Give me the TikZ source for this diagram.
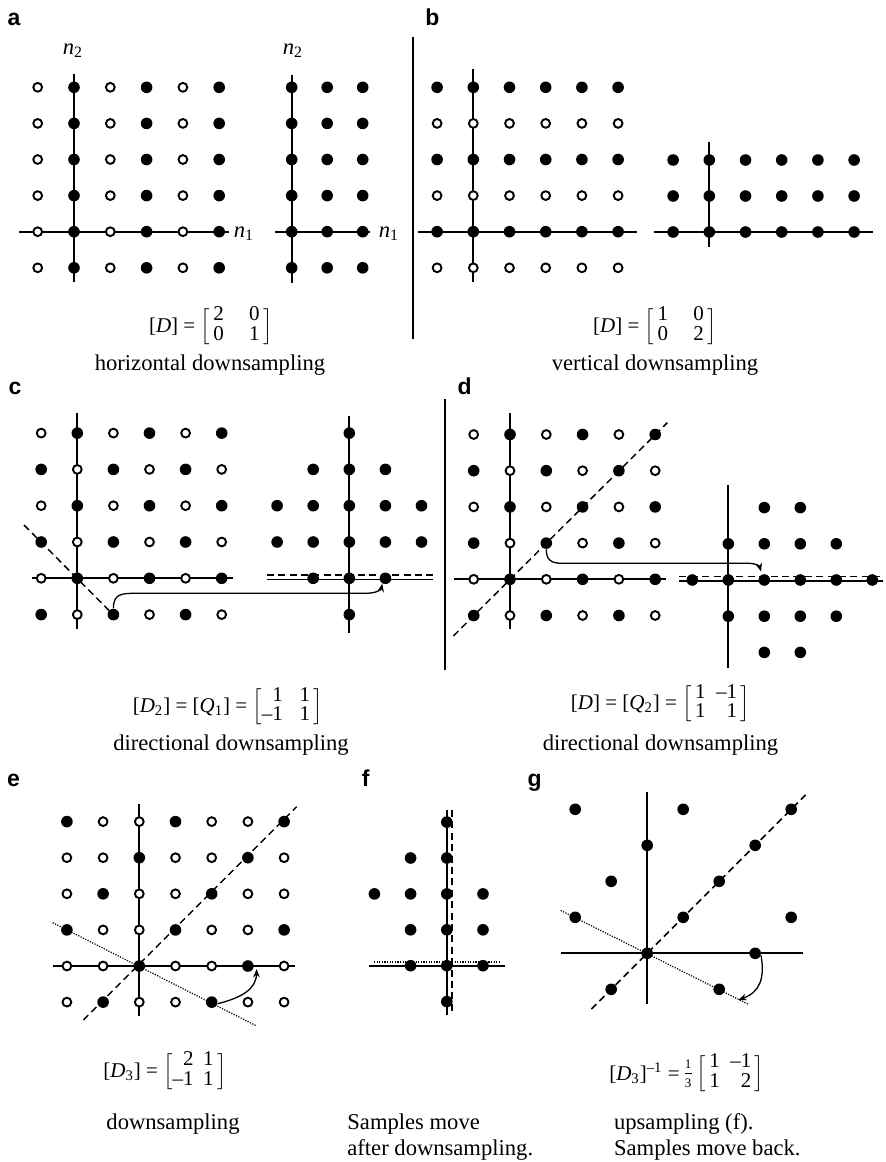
\documentclass[tikz,border=0pt]{standalone}
\usepackage{fontspec}
\setmainfont{Liberation Serif}
\newfontfamily\lblfont{Liberation Sans}
\usetikzlibrary{arrows.meta}
\newcommand{\mymat}[2]{$\left[\vcenter{\hbox{\def\arraystretch{0.78}\setlength{\tabcolsep}{0pt}\begin{tabular}{#1}#2\end{tabular}}}\right]$}
\newcommand{\mi}[1]{\textit{#1}}
\begin{document}
\begin{tikzpicture}[x=0.5pt,y=-0.5pt,
 fd/.style={circle,fill=black,inner sep=0pt,minimum size=5.8pt},
 od/.style={circle,draw=black,fill=white,line width=0.95pt,inner sep=0pt,minimum size=4.4pt},
 axln/.style={line width=0.9pt},
 dsh/.style={line width=0.75pt,dash pattern=on 3.5pt off 2.2pt},
 dtt/.style={line width=0.6pt,dash pattern=on 0.6pt off 0.7pt},
 mv/.style={line width=0.65pt,-{Stealth[length=4.2pt,width=3.3pt]}},
 plabel/.style={font=\lblfont\bfseries\fontsize{11.5}{12}\selectfont,inner sep=0pt,anchor=base west},
 captxt/.style={font=\fontsize{11.3}{13.5}\selectfont,inner sep=0pt},
 mcap/.style={font=\fontsize{10.5}{12.5}\selectfont,inner sep=0pt},
 fracn/.style={font=\fontsize{6.5}{7}\selectfont,inner sep=0pt},
 axl/.style={font=\fontsize{11.3}{13}\selectfont,inner sep=0pt}]
\useasboundingbox (0,0) rectangle (885,1162);
\fill[white] (0,0) rectangle (885,1162);

% ---------- panel labels
\node[plabel] (la) at (7.3,25.5) {a};
\node[plabel] (lb) at (425,25.5) {b};
\node[plabel] (lc) at (8.3,394) {c};
\node[plabel] (ld) at (457.3,394) {d};
\node[plabel] (le) at (6.7,786.5) {e};
\node[plabel] (lf) at (361.4,786.5) {f};
\node[plabel] (lg) at (527.2,786.5) {g};

% ---------- panel a, left
\coordinate (aLt) at (74,74); \coordinate (aLb) at (74,282);
\coordinate (aLl) at (19.3,231.7); \coordinate (aLr) at (229.3,231.7);
\draw[axln] (aLt) -- (aLb); \draw[axln] (aLl) -- (aLr);
\foreach \i in {-1,...,4}{\foreach \j in {-1,...,4}{
 \pgfmathtruncatemacro{\f}{mod(\i+10,2)}
 \ifnum\f=0 \node[fd] (aL-\i-\j) at ({74+36.3*\i},{231.7-36.1*\j}) {};
 \else \node[od] (aL-\i-\j) at ({74+36.3*\i},{231.7-36.1*\j}) {};\fi}}
\node[axl] (aLn1) at (244,233.5) {\mi{n}\textsubscript{1}};
\node[axl] (aLn2) at (73,51) {\mi{n}\textsubscript{2}};

% ---------- panel a, right
\coordinate (aRt) at (291.7,75); \coordinate (aRb) at (291.7,283);
\coordinate (aRl) at (275,231.7); \coordinate (aRr) at (370,231.7);
\draw[axln] (aRt) -- (aRb); \draw[axln] (aRl) -- (aRr);
\foreach \i in {0,...,2}{\foreach \j in {-1,...,4}{
 \node[fd] (aR-\i-\j) at ({291.7+35.5*\i},{231.7-36.1*\j}) {};}}
\node[axl] (aRn1) at (389,233.5) {\mi{n}\textsubscript{1}};
\node[axl] (aRn2) at (293,51) {\mi{n}\textsubscript{2}};

\coordinate (s1a) at (412.7,36.7); \coordinate (s1b) at (412.7,339);
\draw[axln] (s1a) -- (s1b);

\node[mcap] (aM) at (210.8,326.7) {[\mi{D}] = \mymat{@{\,}c@{\hspace{1.2em}}c@{\,}}{2&0\\0&1}};
\node[captxt,anchor=base] (aT) at (210,370) {horizontal downsampling};

% ---------- panel b, left
\coordinate (bLt) at (473.3,69); \coordinate (bLb) at (473.3,281.7);
\coordinate (bLl) at (418.3,231.7); \coordinate (bLr) at (636.7,231.7);
\draw[axln] (bLt) -- (bLb); \draw[axln] (bLl) -- (bLr);
\foreach \i in {-1,...,4}{\foreach \j in {-1,...,4}{
 \pgfmathtruncatemacro{\f}{mod(\j+10,2)}
 \ifnum\f=0 \node[fd] (bL-\i-\j) at ({473.3+36.2*\i},{231.7-36.1*\j}) {};
 \else \node[od] (bL-\i-\j) at ({473.3+36.2*\i},{231.7-36.1*\j}) {};\fi}}

% ---------- panel b, right
\coordinate (bRt) at (709.3,141.7); \coordinate (bRb) at (709.3,247.3);
\coordinate (bRl) at (654,232); \coordinate (bRr) at (872.7,232);
\draw[axln] (bRt) -- (bRb); \draw[axln] (bRl) -- (bRr);
\foreach \i in {-1,...,4}{\foreach \j in {0,...,2}{
 \node[fd] (bR-\i-\j) at ({709.3+36.2*\i},{232-36*\j}) {};}}

\node[mcap] (bM) at (655,326.7) {[\mi{D}] = \mymat{@{\,}c@{\hspace{1.2em}}c@{\,}}{1&0\\0&2}};
\node[captxt,anchor=base] (bT) at (655,370) {vertical downsampling};

% ---------- panel c, left
\coordinate (cLt) at (77.3,412.7); \coordinate (cLb) at (77.3,629.3);
\coordinate (cLl) at (31.7,578.3); \coordinate (cLr) at (232.7,578.3);
\coordinate (cLd1) at (24,525); \coordinate (cLd2) at (120,621.5);
\draw[axln] (cLt) -- (cLb); \draw[axln] (cLl) -- (cLr);
\draw[dsh] (cLd1) -- (cLd2);
\foreach \i in {-1,...,4}{\foreach \j in {-1,...,4}{
 \pgfmathtruncatemacro{\f}{mod(\i+\j+10,2)}
 \ifnum\f=0 \node[fd] (cL-\i-\j) at ({77.3+36.1*\i},{578.3-36.3*\j}) {};
 \else \node[od] (cL-\i-\j) at ({77.3+36.1*\i},{578.3-36.3*\j}) {};\fi}}

% ---------- panel c, right
\coordinate (cRt) at (349.3,416); \coordinate (cRb) at (349.3,632.7);
\coordinate (cRl) at (266.7,579.5); \coordinate (cRr) at (433.3,579.5);
\coordinate (cRdl) at (266.7,575); \coordinate (cRdr) at (433.3,575);
\draw[axln] (cRt) -- (cRb); \draw[axln] (cRl) -- (cRr);
\draw[dsh] (cRdl) -- (cRdr);
\foreach \i/\j in {0/4,-1/3,0/3,1/3,-2/2,-1/2,0/2,1/2,2/2,-2/1,-1/1,0/1,1/1,2/1,-1/0,0/0,1/0,0/-1}{
 \node[fd] (cR-\i-\j) at ({349.3+36.1*\i},{578.3-36.3*\j}) {};}
\draw[mv] (cL-1--1.north) .. controls (113.4,597) and (118,593.3) .. (132,593.3) -- (365,593.3) .. controls (376,593.3) and (381,590) .. (cR-1-0.240);

\node[mcap] (cM) at (228,707) {[\mi{D}\textsubscript{2}] = [\mi{Q}\textsubscript{1}] = \mymat{r@{\hspace{0.8em}}r@{\,}}{1&1\\\textendash1&1}};
\node[captxt,anchor=base] (cT) at (231,750) {directional downsampling};

% ---------- panel d
\coordinate (s2a) at (445,399.3); \coordinate (s2b) at (445,670);
\draw[axln] (s2a) -- (s2b);
\coordinate (dLt) at (510,413.3); \coordinate (dLb) at (510,629.3);
\coordinate (dLl) at (454,579.3); \coordinate (dLr) at (666,579.3);
\coordinate (dLd1) at (453.3,636); \coordinate (dLd2) at (667.3,422.7);
\draw[axln] (dLt) -- (dLb); \draw[axln] (dLl) -- (dLr);
\draw[dsh] (dLd1) -- (dLd2);
\foreach \i in {-1,...,4}{\foreach \j in {-1,...,4}{
 \pgfmathtruncatemacro{\f}{mod(\i+\j+10,2)}
 \ifnum\f=0 \node[fd] (dL-\i-\j) at ({510+36.3*\i},{579.3-36.2*\j}) {};
 \else \node[od] (dL-\i-\j) at ({510+36.3*\i},{579.3-36.2*\j}) {};\fi}}
\coordinate (dRt) at (728.3,485); \coordinate (dRb) at (728.3,668.3);
\coordinate (dRl) at (679.3,580.7); \coordinate (dRr) at (883.3,580.7);
\coordinate (dRdl) at (679.3,576.7); \coordinate (dRdr) at (883.3,576.7);
\draw[axln] (dRt) -- (dRb); \draw[axln] (dRl) -- (dRr);
\draw[dsh] (dRdl) -- (dRdr);
\foreach \i/\j in {1/2,2/2,0/1,1/1,2/1,3/1,-1/0,0/0,1/0,2/0,3/0,4/0,0/-1,1/-1,2/-1,3/-1,1/-2,2/-2}{
 \node[fd] (dR-\i-\j) at ({728.3+36*\i},{580-36.2*\j}) {};}
\coordinate (dtip) at (761,571.5);
\draw[mv] (dL-1-1.south) .. controls (546.3,559) and (550,563.3) .. (562,563.3) -- (748,563.3) .. controls (756,563.3) and (759.5,566) .. (dtip);

\node[mcap] (dM) at (660.5,704) {[\mi{D}] = [\mi{Q}\textsubscript{2}] = \mymat{@{\,}r@{\hspace{0.5em}}r@{\,}}{1&\textendash1\\1&1}};
\node[captxt,anchor=base] (dT) at (660.5,750) {directional downsampling};

% ---------- panel e
\coordinate (eT) at (139.3,804); \coordinate (eB) at (139.3,1016);
\coordinate (eL) at (52.7,966); \coordinate (eR) at (295,966);
\coordinate (eD1) at (83.3,1020); \coordinate (eD2) at (296.7,806.7);
\coordinate (eO1) at (52.7,922.7); \coordinate (eO2) at (256.7,1026);
\draw[axln] (eT) -- (eB); \draw[axln] (eL) -- (eR);
\draw[dsh] (eD1) -- (eD2);
\draw[dtt] (eO1) -- (eO2);
\foreach \i in {-2,...,4}{\foreach \j in {-1,...,4}{
 \pgfmathtruncatemacro{\f}{mod(\i+2*\j+30,3)}
 \ifnum\f=0 \node[fd] (eP-\i-\j) at ({139.3+36.2*\i},{966-36.1*\j}) {};
 \else \node[od] (eP-\i-\j) at ({139.3+36.2*\i},{966-36.1*\j}) {};\fi}}
\coordinate (etip) at (256.7,969);
\draw[mv] (eP-2--1.-15) .. controls (240,998) and (256,990) .. (etip);

\node[mcap] (eM) at (165,1071.7) {[\mi{D}\textsubscript{3}] = \mymat{r@{\hspace{0.45em}}r@{\,}}{2&1\\\textendash1&1}};
\node[captxt,anchor=base] (eTx) at (173,1129) {downsampling};

% ---------- panel f
\coordinate (fT) at (446.8,810); \coordinate (fB) at (446.8,1015);
\coordinate (fdT) at (452.2,810); \coordinate (fdB) at (452.2,1015);
\coordinate (fL) at (368.6,965.7); \coordinate (fR) at (504.5,965.7);
\coordinate (foL) at (374,962); \coordinate (foR) at (500,962);
\draw[axln] (fT) -- (fB); \draw[dsh] (fdT) -- (fdB);
\draw[axln] (fL) -- (fR); \draw[dtt] (foL) -- (foR);
\foreach \i/\j in {0/4,-1/3,0/3,-2/2,-1/2,0/2,1/2,-1/1,0/1,1/1,-1/0,0/0,1/0,0/-1}{
 \node[fd] (fP-\i-\j) at ({446.8+36.2*\i},{965.7-35.9*\j}) {};}
\node[captxt,anchor=base west] (fT1) at (347,1129) {Samples move};
\node[captxt,anchor=base west] (fT2) at (347,1155) {after downsampling.};

% ---------- panel g
\coordinate (gT) at (647.2,791.7); \coordinate (gB) at (647.2,1004);
\coordinate (gL) at (560.7,953.3); \coordinate (gR) at (802.9,953.3);
\coordinate (gD1) at (591.4,1009.1); \coordinate (gD2) at (805.6,794.9);
\coordinate (gO1) at (560.7,910.5); \coordinate (gO2) at (748.8,1004.5);
\draw[axln] (gT) -- (gB); \draw[axln] (gL) -- (gR);
\draw[dsh] (gD1) -- (gD2);
\draw[dtt] (gO1) -- (gO2);
\foreach \i/\j in {-2/4,1/4,4/4,0/3,3/3,-1/2,2/2,-2/1,1/1,4/1,0/0,3/0,-1/-1,2/-1}{
 \node[fd] (gP-\i-\j) at ({647.2+36*\i},{953.3-36*\j}) {};}
\coordinate (gtip) at (738.3,1000);
\draw[mv] (gP-3-0.-20) .. controls (765,978) and (760,992) .. (gtip);

\node[mcap,anchor=east] (gMa) at (680,1073.3) {[\mi{D}\textsubscript{3}]\textsuperscript{\textendash1} =};
\node[fracn] (gFn) at (688,1064.5) {1};
\node[fracn] (gFd) at (688,1083) {3};
\coordinate (gFl) at (684.5,1073.3); \coordinate (gFr) at (691.5,1073.3);
\draw[line width=0.4pt] (gFl) -- (gFr);
\node[mcap,anchor=west] (gMb) at (696,1073.3) {\mymat{@{\,}r@{\hspace{0.5em}}r@{\,}}{1&\textendash1\\1&2}};
\node[captxt,anchor=base west] (gT1) at (613.7,1129) {upsampling (f).};
\node[captxt,anchor=base west] (gT2) at (613.7,1155) {Samples move back.};
\end{tikzpicture}
\end{document}
